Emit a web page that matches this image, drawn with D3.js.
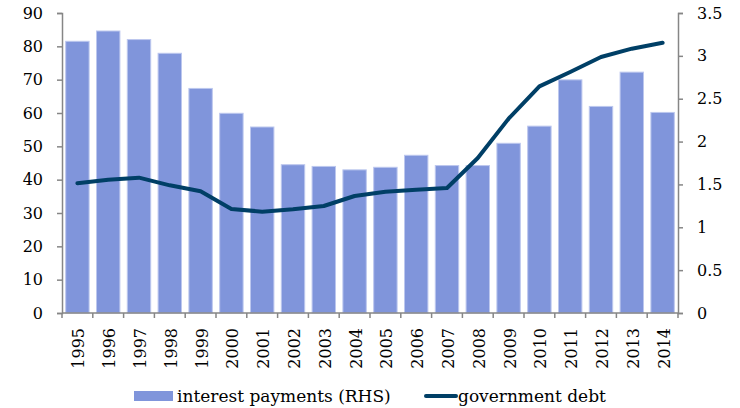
<!DOCTYPE html>
<html>
<head>
<meta charset="utf-8">
<script src="https://cdn.jsdelivr.net/npm/d3@7"></script>
<style>
  body { margin: 0; background: #fff; }
  text { font-family: "DejaVu Serif", "Liberation Serif", serif; fill: #000; }
</style>
</head>
<body>
<div id="chart"></div>
<script>
// Data
const years = ["1995","1996","1997","1998","1999","2000","2001","2002","2003","2004",
               "2005","2006","2007","2008","2009","2010","2011","2012","2013","2014"];
// interest payments, right-hand scale
const interest = [3.17, 3.29, 3.19, 3.03, 2.62, 2.33, 2.17, 1.73, 1.71, 1.67,
                  1.70, 1.84, 1.72, 1.72, 1.98, 2.18, 2.72, 2.41, 2.81, 2.34];
// government debt, left-hand scale
const debt = [38.9, 40.0, 40.6, 38.3, 36.5, 31.2, 30.4, 31.1, 32.1, 35.1,
              36.4, 37.0, 37.5, 46.5, 58.3, 68.0, 72.3, 76.8, 79.3, 81.1];
const leftTicks = d3.range(0, 91, 10);
const rightTicks = [0, 0.5, 1, 1.5, 2, 2.5, 3, 3.5];

const W = 740, H = 408;
const margin = { top: 13, right: 62, bottom: 95, left: 62 };
const width = W - margin.left - margin.right;
const height = H - margin.top - margin.bottom;
const fontSize = 16;

const svg = d3.select("#chart").append("svg")
    .attr("width", W)
    .attr("height", H);
const g = svg.append("g")
    .attr("transform", `translate(${margin.left},${margin.top})`);

const x = d3.scaleBand().domain(years).range([0, width]).paddingInner(0.24).paddingOuter(0.12);
const yL = d3.scaleLinear().domain([0, 90]).range([height, 0]);
const yR = d3.scaleLinear().domain([0, 3.5]).range([height, 0]);

// bars
g.selectAll("rect.bar")
  .data(years)
  .join("rect")
    .attr("class", "bar")
    .attr("x", d => x(d))
    .attr("y", (d, i) => yR(interest[i]))
    .attr("width", x.bandwidth())
    .attr("height", (d, i) => height - yR(interest[i]))
    .attr("fill", "#8095DB")
    .attr("stroke", "#BCC7EE")
    .attr("stroke-width", 1);

// line
const line = d3.line()
    .x((d, i) => x(years[i]) + x.bandwidth() / 2)
    .y(d => yL(d));
g.append("path")
    .datum(debt)
    .attr("d", line)
    .attr("fill", "none")
    .attr("stroke", "#003F66")
    .attr("stroke-width", 4)
    .attr("stroke-linejoin", "round")
    .attr("stroke-linecap", "round");

const axisColor = "#868686";

// left axis
const la = g.append("g")
    .call(d3.axisLeft(yL).tickValues(leftTicks).tickSize(5).tickPadding(14));
// right axis
const ra = g.append("g")
    .attr("transform", `translate(${width},0)`)
    .call(d3.axisRight(yR).tickValues(rightTicks).tickSize(5).tickPadding(14).tickFormat(d3.format("")));
// bottom axis: ticks at category boundaries
const bounds = d3.range(years.length + 1).map(i => i * width / years.length);
const ba = g.append("g").attr("transform", `translate(0,${height})`);
ba.append("line").attr("x1", 0).attr("x2", width).attr("stroke", axisColor).attr("stroke-width", 1.5);
ba.selectAll("line.t").data(bounds).join("line")
    .attr("class", "t")
    .attr("x1", d => d).attr("x2", d => d)
    .attr("y1", 0).attr("y2", 5)
    .attr("stroke", axisColor).attr("stroke-width", 1.5);
ba.selectAll("text").data(years).join("text")
    .attr("transform", d => `translate(${x(d) + x.bandwidth() / 2 + 7},15) rotate(-90)`)
    .attr("text-anchor", "end")
    .attr("font-size", fontSize)
    .text(d => d);

[la, ra].forEach(a => {
  a.select(".domain").attr("stroke", axisColor).attr("stroke-width", 1.5);
  a.selectAll(".tick line").attr("stroke", axisColor).attr("stroke-width", 1.5);
  a.selectAll(".tick text").attr("font-size", fontSize).attr("fill", "#000")
    .attr("font-family", "DejaVu Serif");
});

// legend
const lg = svg.append("g").attr("transform", "translate(134,396)");
lg.append("rect").attr("x", 0).attr("y", -5).attr("width", 39).attr("height", 10).attr("fill", "#8095DB");
lg.append("text").attr("x", 43).attr("y", 6).attr("font-size", 17).text("interest payments (RHS)");
lg.append("line").attr("x1", 292).attr("x2", 322).attr("y1", 0).attr("y2", 0)
    .attr("stroke", "#003F66").attr("stroke-width", 4).attr("stroke-linecap", "round");
lg.append("text").attr("x", 324).attr("y", 6).attr("font-size", 17).text("government debt");
</script>
</body>
</html>
